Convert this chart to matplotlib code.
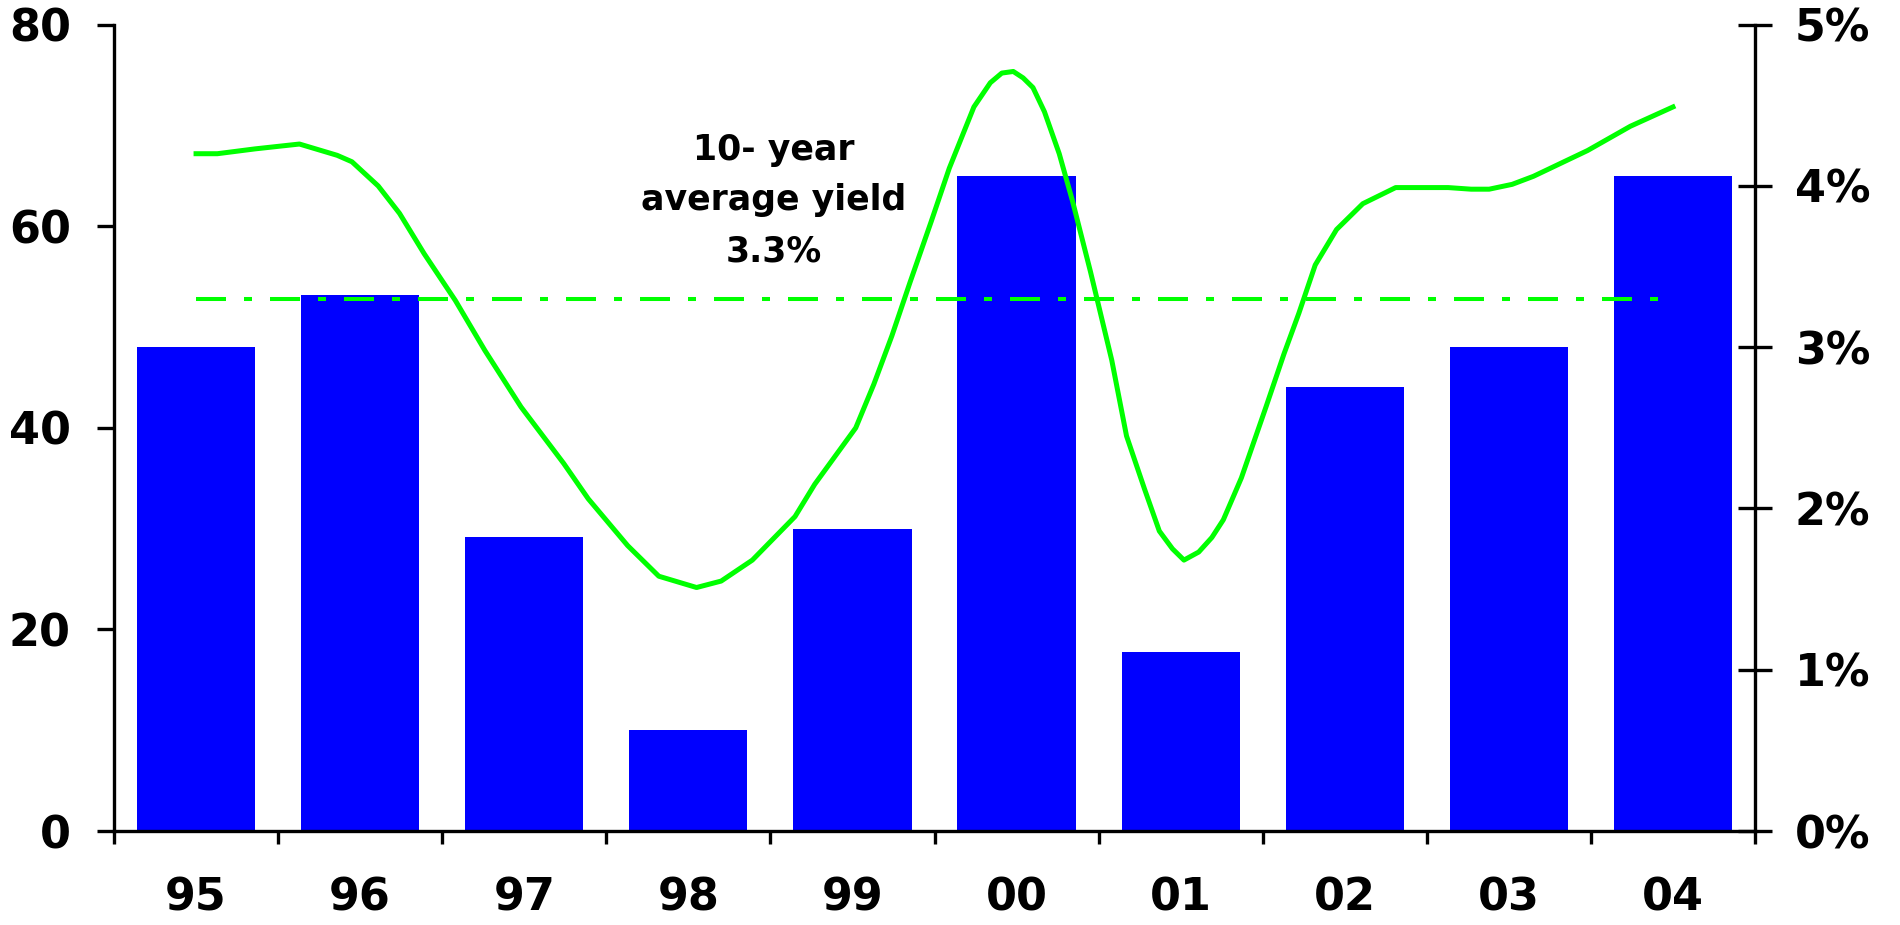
import matplotlib
matplotlib.use("Agg")
import matplotlib.pyplot as plt
import numpy as np

plt.rcParams["font.family"] = ["DejaVu Sans"]
plt.rcParams["font.weight"] = "bold"

# categories and bar values (left axis)
years = ["95", "96", "97", "98", "99", "00", "01", "02", "03", "04"]
bar_values = [48.0, 53.2, 29.2, 10.0, 30.0, 65.0, 17.8, 44.1, 48.0, 65.0]

# yield curve (right axis, %), x in years after 95
yield_t = [0.00, 0.13, 0.36, 0.63, 0.86, 0.95, 1.11, 1.24, 1.39, 1.58, 1.76, 1.98,
           2.24, 2.39, 2.63, 2.82, 3.05, 3.20, 3.39, 3.65, 3.77, 4.02, 4.13, 4.24,
           4.35, 4.48, 4.59, 4.74, 4.84, 4.91, 4.98, 5.04, 5.10, 5.17, 5.26, 5.34,
           5.45, 5.58, 5.67, 5.78, 5.87, 5.95, 6.02, 6.11, 6.19, 6.26, 6.37, 6.52,
           6.63, 6.72, 6.82, 6.95, 7.11, 7.31, 7.63, 7.77, 7.88, 8.02, 8.15, 8.48,
           8.74, 9.00]
yield_pct = [4.20, 4.20, 4.23, 4.26, 4.19, 4.15, 4.00, 3.83, 3.58, 3.29, 2.98, 2.63,
             2.28, 2.06, 1.77, 1.58, 1.51, 1.55, 1.68, 1.95, 2.15, 2.50, 2.77, 3.07,
             3.40, 3.78, 4.11, 4.49, 4.64, 4.70, 4.71, 4.67, 4.61, 4.46, 4.20, 3.91,
             3.47, 2.92, 2.45, 2.12, 1.86, 1.75, 1.68, 1.73, 1.82, 1.93, 2.19, 2.63,
             2.96, 3.21, 3.51, 3.73, 3.89, 3.99, 3.99, 3.98, 3.98, 4.01, 4.06, 4.22,
             4.37, 4.49]
avg_yield = 3.3

left_ticks = [0, 20, 40, 60, 80]
right_ticks = [0, 1, 2, 3, 4, 5]

blue = "#0000ff"
green = "#00ff00"

fig = plt.figure(figsize=(19, 9.25), dpi=100)
ax = fig.add_axes([0.06, 0.1016, 0.8637, 0.8717])

x = np.arange(len(years))
ax.bar(x, bar_values, width=0.72, color=blue, zorder=2)
ax.set_xlim(-0.5, len(years) - 0.5)
ax.set_ylim(0, 80)
ax.set_yticks(left_ticks)
ax.set_yticklabels([str(v) for v in left_ticks])

ax.set_xticks(np.arange(len(years) + 1) - 0.5)
ax.set_xticklabels([])
ax.set_xticks(x, minor=True)
ax.set_xticklabels(years, minor=True)

for side in ["top", "right"]:
    ax.spines[side].set_visible(False)
for side in ["left", "bottom"]:
    ax.spines[side].set_linewidth(2.4)

ax.tick_params(axis="y", direction="out", length=12, width=2.4, pad=19, labelsize=32)
ax.tick_params(axis="x", which="major", direction="out", length=9.5, width=2.4)
ax.tick_params(axis="x", which="minor", length=0, pad=33, labelsize=32)

ax2 = ax.twinx()
ax2.set_ylim(0, 5)
ax2.set_yticks(right_ticks)
ax2.set_yticklabels([f"{v}%" for v in right_ticks])
for side in ["top", "left", "bottom"]:
    ax2.spines[side].set_visible(False)
ax2.spines["right"].set_linewidth(2.4)
ax2.tick_params(axis="y", direction="inout", length=25, width=2.4, pad=16, labelsize=32)

ax2.plot(yield_t, yield_pct, color=green, lw=3.6, solid_joinstyle="round")
avg_line, = ax2.plot([0, len(years) - 1], [avg_yield, avg_yield], color=green, lw=2.9)
avg_line.set_dashes([30 / 2.9 * 0.72, 18 / 2.9 * 0.72, 8 / 2.9 * 0.72, 18 / 2.9 * 0.72])

ax2.text(3.52, 3.91, f"10- year\naverage yield\n{avg_yield}%", ha="center", va="center",
         fontsize=25, fontweight="bold", linespacing=1.62)

fig.savefig("out.png", dpi=100)
